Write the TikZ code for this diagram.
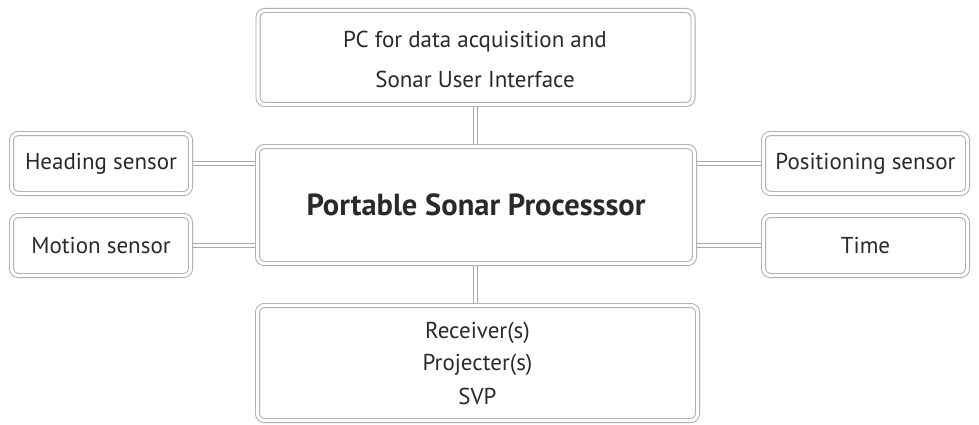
\documentclass[tikz,border=0pt]{standalone}
\usepackage{fontspec}
\setmainfont{PT Sans}
\usetikzlibrary{backgrounds}
\definecolor{edge}{HTML}{A8A8A8}
\definecolor{ink}{HTML}{2A2A2A}
\tikzset{
  box/.style={draw=edge, line width=0.9pt, double=white, double distance=3.2pt,
    fill=white, rounded corners=7pt, inner sep=0pt, text=ink, align=center,
    font=\fontsize{23}{27}\selectfont},
  link/.style={draw=edge, line width=0.9pt, double=white, double distance=3.2pt},
  rail/.style={draw=edge, line width=0.9pt},
  lbl/.style={text=ink, font=\fontsize{23}{27}\selectfont, inner sep=0pt}
}
\begin{document}
\begin{tikzpicture}[x=1pt,y=-1pt]
\useasboundingbox (0,0) rectangle (979,425);
% boxes
\node[box, minimum width=435pt, minimum height=94pt] (pc) at (475.5,57.5) {};
\node[lbl] at (475,42) {PC for data acquisition and};
\node[lbl] at (475,79) {Sonar User Interface};

\node[box, minimum width=437pt, minimum height=117pt] (pro) at (476,205)
  {\fontsize{30.5}{34}\selectfont\bfseries Portable Sonar Processsor};

\node[box, minimum width=179pt, minimum height=60pt] (head) at (101,163.5) {Heading sensor};
\node[box, minimum width=179pt, minimum height=60pt] (mot) at (101,245.5) {Motion sensor};
\node[box, minimum width=204pt, minimum height=60pt] (pos) at (865.5,163.5) {Positioning sensor};
\node[box, minimum width=204pt, minimum height=60pt] (time) at (865.5,245.5) {Time};

\node[box, minimum width=440pt, minimum height=115pt] (dev) at (477.5,363) {};
\node[lbl] at (477.5,333) {Receiver(s)};
\node[lbl] at (477.5,365) {Projecter(s)};
\node[lbl] at (477.5,396) {SVP};

% connectors behind the boxes
\begin{scope}[on background layer]
\foreach \dx in {-2.3,2.3}{
  \draw[rail] ([xshift=\dx pt]pc.south) -- ([xshift=\dx pt]pc.south |- pro.north);
  \draw[rail] ([xshift=\dx pt]pc.south |- pro.south) -- ([xshift=\dx pt]pc.south |- dev.north);
}
\draw[link] (head.east) -- (head.east -| pro.west);
\draw[link] (mot.east) -- (mot.east -| pro.west);
\draw[link] (pos.west) -- (pos.west -| pro.east);
\draw[link] (time.west) -- (time.west -| pro.east);
\end{scope}
\end{tikzpicture}
\end{document}
